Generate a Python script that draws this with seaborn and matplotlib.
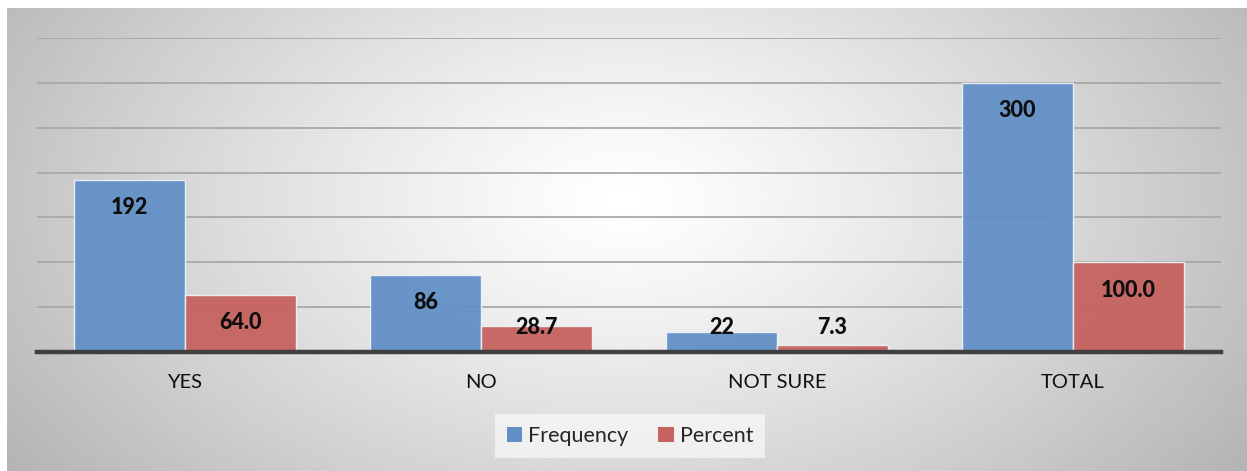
import numpy as np
import pandas as pd
import matplotlib
matplotlib.use("Agg")
import matplotlib.pyplot as plt
from matplotlib.patches import Patch
import seaborn as sns

# Survey responses
categories = ["YES", "NO", "NOT SURE", "TOTAL"]
frequency = [192, 86, 22, 300]
percent = [64.0, 28.7, 7.3, 100.0]
series_names = ["Frequency", "Percent"]
value_labels = {
    "Frequency": ["192", "86", "22", "300"],
    "Percent": ["64.0", "28.7", "7.3", "100.0"],
}

BLUE = "#6290c6"
RED = "#c6625f"

sns.set_theme(style="white")
plt.rcParams["font.family"] = ["Lato", "DejaVu Sans"]

W, H = 1247, 471
fig = plt.figure(figsize=(W / 100, H / 100), dpi=100)
fig.patch.set_facecolor("white")

# Chart-area panel with a soft radial gradient
px0, py0, px1, py1 = 7, 8, 1247, 471
bg = fig.add_axes([px0 / W, 1 - py1 / H, (px1 - px0) / W, (py1 - py0) / H])
gx = np.linspace(px0, px1, 600)
gy = np.linspace(py0, py1, 240)
XX, YY = np.meshgrid(gx, gy)
r = np.sqrt(((XX - 625) / 680) ** 2 + ((YY - 200) / 420) ** 2)
shade = 1.0 - 0.26 * np.clip(r, 0, 1.2) ** 1.2
bg.imshow(shade, cmap="gray", vmin=0, vmax=1, aspect="auto",
          extent=[0, 1, 0, 1], interpolation="bilinear")
bg.set_axis_off()
bg.set_zorder(0)

df = pd.DataFrame({
    "Response": categories * 2,
    "Value": frequency + percent,
    "Series": [series_names[0]] * 4 + [series_names[1]] * 4,
})

ax_l, ax_r, ax_t, ax_b = 37, 1221, 38, 352
ax = fig.add_axes([ax_l / W, 1 - ax_b / H, (ax_r - ax_l) / W, (ax_b - ax_t) / H])
ax.set_zorder(1)
ax.patch.set_alpha(0)

ax.set_ylim(0, 350)
ax.set_yticks(np.arange(0, 351, 50))
ax.yaxis.grid(True, color="#a8a8a8", linewidth=1.3)
ax.set_axisbelow(True)

sns.barplot(data=df, x="Response", y="Value", hue="Series",
            palette=[BLUE, RED], saturation=1, width=0.75, gap=0, alpha=0.95,
            edgecolor="#eef2f8", linewidth=1.0, ax=ax, legend=False)

ax.set_xlim(-0.5, 3.5)
for s in ["top", "right", "left"]:
    ax.spines[s].set_visible(False)
ax.spines["bottom"].set_color("#404040")
ax.spines["bottom"].set_linewidth(3.2)
ax.spines["bottom"].set_zorder(5)
ax.set_yticklabels([])
ax.tick_params(axis="y", length=0)
ax.tick_params(axis="x", length=0, pad=16, labelsize=14.5, labelcolor="#111111")
ax.set_xlabel("")
ax.set_ylabel("")

# Value labels: just inside the top of each bar, kept clear of the baseline
for cont, name in zip(ax.containers, series_names):
    for bar, txt in zip(cont, value_labels[name]):
        h = bar.get_height()
        y = max(h - 31, 27)
        ax.text(bar.get_x() + bar.get_width() / 2, y, txt,
                ha="center", va="center", fontsize=15.5, fontweight="black",
                color="#0d0d0d", zorder=6)

handles = [Patch(facecolor=BLUE, edgecolor="none", label=series_names[0]),
           Patch(facecolor=RED, edgecolor="none", label=series_names[1])]
leg = fig.legend(handles=handles, loc="center", bbox_to_anchor=(630 / W, 1 - 436 / H),
                 ncol=2, frameon=True, fontsize=15.5, handlelength=0.7,
                 handleheight=0.7, handletextpad=0.3, columnspacing=1.4,
                 borderpad=0.55, fancybox=False)
leg.get_frame().set_facecolor("#f6f6f6")
leg.get_frame().set_edgecolor("none")
leg.set_zorder(3)

fig.savefig("out.png", dpi=100)
